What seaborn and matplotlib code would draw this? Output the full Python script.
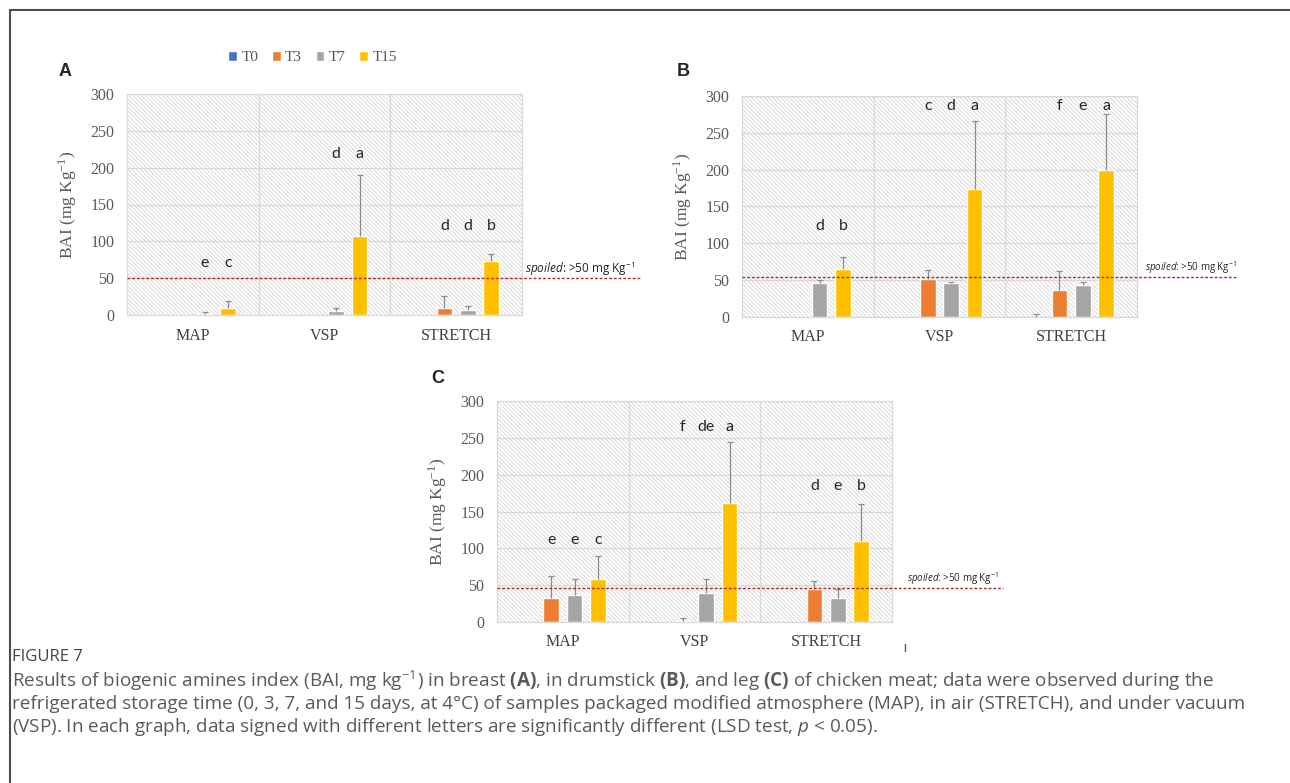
"""
BAI (biogenic amines index) in chicken meat: breast (A), drumstick (B), leg (C)
Three bar panels by package type and storage time, plus the figure caption.
"""

import numpy as np
import pandas as pd
import seaborn as sns
import matplotlib.pyplot as plt
import matplotlib.transforms as mtransforms
from matplotlib.lines import Line2D
from matplotlib.patches import Rectangle

# ---------------------------------------------------------------- data
packages = ["MAP", "VSP", "STRETCH"]
times = ["T0", "T3", "T7", "T15"]
colors = ["#4472C4", "#ED7D31", "#A5A5A5", "#FFC000"]

# rows = package, columns = time
bai_a = [[0, 0, 1, 10], [0, 0, 6, 107], [0, 10, 7, 73]]
err_a = [[0, 0, 3.5, 9], [0, 0, 4, 83], [0, 16, 5.5, 10]]
letters_a = [["", "", "e", "c"], ["", "", "d", "a"], ["", "d", "d", "b"]]
letter_y_a = [71, 219, 121]
spoiled_a = 50

bai_b = [[0, 0, 46, 64.5], [0, 52, 46, 174], [0, 37, 44, 200]]
err_b = [[0, 0, 4, 16.5], [0, 12, 1, 92], [3.6, 26, 4, 76]]
letters_b = [["", "", "d", "b"], ["", "c", "d", "a"], ["", "f", "e", "a"]]
letter_y_b = [124, 286, 286]
spoiled_b = 54

bai_c = [[0, 32, 36, 58], [0, 2, 40, 162], [0, 44.5, 33, 110]]
err_c = [[0, 30, 22, 32], [0, 3.5, 19, 83], [0, 11.5, 12, 50]]
letters_c = [["", "e", "e", "c"], ["", "f", "de", "a"], ["", "d", "e", "b"]]
letter_y_c = [111, 265, 185]
spoiled_c = 46

y_ticks = [0, 50, 100, 150, 200, 250, 300]

caption_title = "FIGURE 7"
caption_lines = [
    r"Results of biogenic amines index (BAI, mg kg$^{\mathsf{-1}}$) in breast $\mathbf{(A)}$, "
    r"in drumstick $\mathbf{(B)}$, and leg $\mathbf{(C)}$ of chicken meat; data were observed during the",
    "refrigerated storage time (0, 3, 7, and 15 days, at 4°C) of samples packaged modified "
    "atmosphere (MAP), in air (STRETCH), and under vacuum",
    r"(VSP). In each graph, data signed with different letters are significantly different "
    r"(LSD test, $\mathit{p}$ < 0.05).",
]

# ---------------------------------------------------------------- style
sns.set_style("white")
plt.rcParams["font.family"] = ["Liberation Serif", "DejaVu Serif"]
plt.rcParams["mathtext.fontset"] = "custom"
plt.rcParams["mathtext.rm"] = "Liberation Serif"
plt.rcParams["mathtext.it"] = "Open Sans:italic"
plt.rcParams["mathtext.bf"] = "Open Sans:bold"
plt.rcParams["mathtext.sf"] = "Open Sans"
plt.rcParams["hatch.color"] = "#cdcdcd"
plt.rcParams["hatch.linewidth"] = 0.5

GRID = "#d9d9d9"
TXT = "#595959"
BAR_W = 0.71   # total width of a group of 4 bars
STEP = BAR_W / len(times)

fig = plt.figure(figsize=(12.9, 7.83), dpi=100)


def panel(rect, bai, err, letters, letter_y, spoiled, tag, line_end, lab_x, lab_size,
          legend=False):
    ax = fig.add_axes(rect)
    ax.add_patch(Rectangle((0, 0), 1, 1, transform=ax.transAxes, facecolor="white",
                           edgecolor="#cdcdcd", hatch="\\" * 8, lw=0, zorder=0.1))

    df = pd.DataFrame({
        "package": np.repeat(packages, len(times)),
        "time": times * len(packages),
        "bai": np.ravel(bai),
    })
    sns.barplot(data=df, x="package", y="bai", hue="time", order=packages,
                hue_order=times, palette=colors, saturation=1, width=BAR_W, gap=0.33,
                errorbar=None, legend=legend, ax=ax, zorder=2)

    # one-sided error bars
    b = np.array(bai, float)
    e = np.array(err, float)
    xs = np.arange(len(packages))[:, None] + (np.arange(len(times)) - 1.5) * STEP
    xs = np.broadcast_to(xs, b.shape)
    m = e > 0
    eb = ax.errorbar(xs[m], b[m], yerr=[np.zeros(m.sum()), e[m]], fmt="none",
                     ecolor="#8c8c8c", elinewidth=0.9, capsize=2.4, capthick=0.9, zorder=3)
    for cap in eb[1]:
        if np.allclose(cap.get_ydata(), b[m]):
            cap.set_visible(False)

    # significance letters
    for i, row in enumerate(letters):
        for j, s in enumerate(row):
            if s:
                ax.text(xs[i, j], letter_y[i], s, ha="center", va="center",
                        fontsize=11.5, family="Lato", color="#262626")

    ax.set_xlim(-0.5, len(packages) - 0.5)
    ax.set_ylim(0, 300)
    ax.set_yticks(y_ticks)
    ax.set_xticks(range(len(packages)), packages)
    ax.set_axisbelow(True)
    ax.yaxis.grid(True, color=GRID, lw=0.9)
    for xv in [0.5, 1.5]:
        ax.axvline(xv, color=GRID, lw=0.9, zorder=0.5)
    for sp in ax.spines.values():
        sp.set_color(GRID)
        sp.set_linewidth(0.9)
    ax.tick_params(axis="y", length=0, pad=9, labelsize=11.5, labelcolor=TXT)
    ax.tick_params(axis="x", length=0, pad=9, labelsize=11.5, labelcolor="#404040")
    ax.set_xlabel("")
    ax.set_ylabel("BAI (mg Kg$^{-1}$)", fontsize=12.5, color=TXT, labelpad=8)

    # spoiled threshold
    tr = mtransforms.blended_transform_factory(ax.transAxes, ax.transData)
    ax.plot([0, line_end], [spoiled, spoiled], transform=tr, clip_on=False,
            color="#b0282c", lw=1.0, ls=(0, (2, 1.4)), zorder=4)
    ax.text(lab_x, spoiled + 13, r"$\mathit{spoiled}$: >50 mg Kg$^{\mathsf{-1}}$",
            transform=tr, ha="left", va="center", fontsize=lab_size, family="Open Sans",
            color="#262626")

    fig.text(tag[0], tag[1], tag[2], fontsize=13, fontweight="bold",
             family="Liberation Sans", ha="center", va="center")

    if legend:
        sns.move_legend(ax, "center", bbox_to_anchor=(0.47, 1.163), ncol=4,
                        frameon=False, title=None, fontsize=11, handlelength=0.55,
                        handleheight=0.55, handletextpad=0.3, columnspacing=0.9,
                        labelcolor=TXT)
    return ax


W, H = 1290, 783
aw, ah = 395 / W, 221 / H
panel([127 / W, 1 - 315 / H, aw, ah], bai_a, err_a, letters_a, letter_y_a, spoiled_a,
      (65 / W, 1 - 72 / H, "A"), 1.30, 1.008, 8.5, legend=True)
panel([742 / W, 1 - 317 / H, aw, ah], bai_b, err_b, letters_b, letter_y_b, spoiled_b,
      (683 / W, 1 - 72 / H, "B"), 1.253, 1.02, 7)
panel([497 / W, 1 - 622 / H, aw, ah], bai_c, err_c, letters_c, letter_y_c, spoiled_c,
      (438 / W, 1 - 378 / H, "C"), 1.28, 1.038, 7)

# stray tick mark below panel C
fig.add_artist(Line2D([905 / W, 905 / W], [1 - 644 / H, 1 - 651 / H], color="#555555", lw=1))

# caption
fig.text(12 / W, 1 - 657 / H, caption_title, fontsize=12, family="Open Sans",
         color="#444444", va="center")
for k, line in enumerate(caption_lines):
    fig.text(12 / W, 1 - (681 + 23 * k) / H, line, fontsize=13.6, family="Open Sans",
             color="#5a5a5a", va="center")

# outer frame (top and left edges)
fig.add_artist(Line2D([10 / W, 1], [1 - 10 / H, 1 - 10 / H], color="#4d4d4d", lw=1.5))
fig.add_artist(Line2D([10 / W, 10 / W], [0, 1 - 10 / H], color="#4d4d4d", lw=1.5))

fig.savefig("out.png", dpi=100)
